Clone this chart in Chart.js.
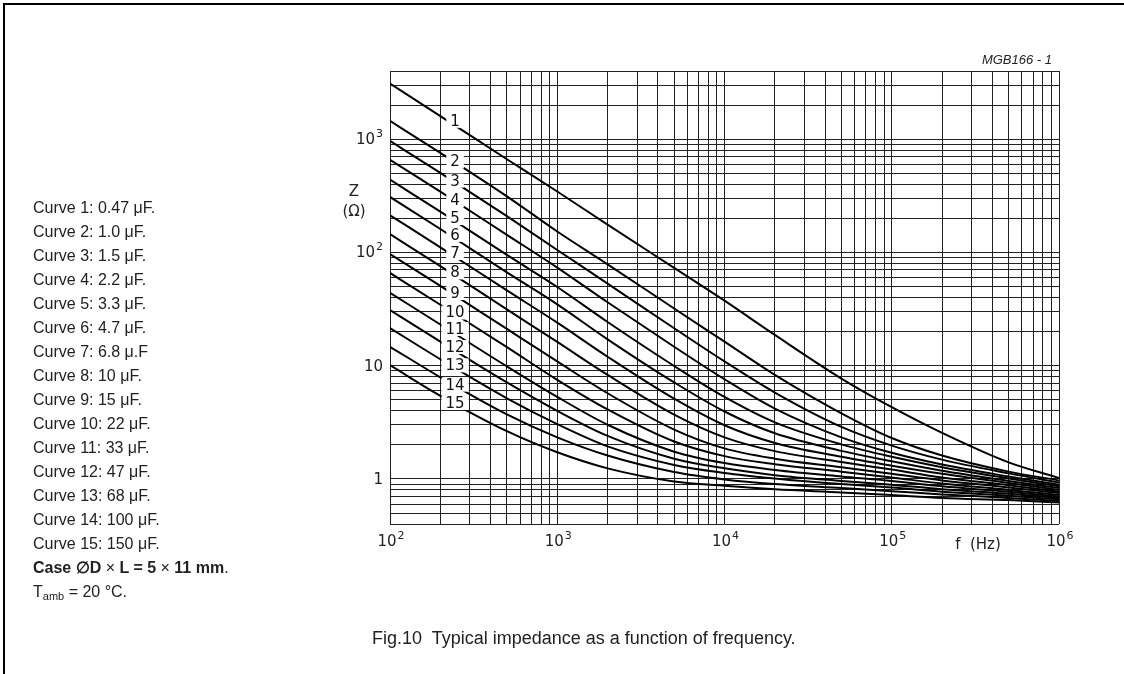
<!DOCTYPE html>
<html>
<head>
<meta charset="utf-8">
<script src="https://cdn.jsdelivr.net/npm/chart.js@4.4.1/dist/chart.umd.min.js"></script>
<style>
  html, body { margin: 0; padding: 0; background: #fff; }
  #wrap { position: relative; width: 1124px; height: 674px; overflow: hidden; }
  #frame { position: absolute; left: 3px; top: 3px; width: 1130px; height: 680px;
           border-left: 2px solid #000; border-top: 2px solid #000; }
  canvas { position: absolute; left: 0; top: 0; }
  .txt { position: absolute; font-family: "Liberation Sans", Arial, sans-serif; color: #222; white-space: nowrap; }
  #notes { left: 33px; top: 196px; font-size: 16px; line-height: 24px; }
  #notes b { font-weight: 600; }
  #notes sub { font-size: 11px; vertical-align: -3px; line-height: 0; }
  #caption { left: 372px; top: 628px; font-size: 18px; }
  #code { right: 72px; top: 52px; font-size: 13px; font-style: italic; }
  #zlab { left: 330px; top: 181px; width: 48px; text-align: center; font-family: "DejaVu Sans", sans-serif;
          font-size: 15px; line-height: 20px; }
</style>
</head>
<body>
<div id="wrap">
  <canvas id="chart" width="1124" height="674"></canvas>
  <div id="frame"></div>
  <div class="txt" id="notes"></div>
  <div class="txt" id="caption">Fig.10&nbsp; Typical impedance as a function of frequency.</div>
  <div class="txt" id="code">MGB166 - 1</div>
  <div class="txt" id="zlab">Z<br>(Ω)</div>
</div>
<script>
// frequency points (Hz) where the curves were read
const freqs = [100, 200, 500, 1e3, 2e3, 5e3, 1e4, 2e4, 5e4, 1e5, 2e5, 5e5, 1e6];

// impedance (ohm)
const curve1  = [3100, 1600, 665, 345, 176, 73, 37.5, 18.7, 7.7, 4.3, 2.55, 1.4, 1.02];
const curve2  = [1450, 756, 313, 153, 78.5, 32, 16.3, 8.3, 3.8, 2.3, 1.61, 1.16, 0.97];
const curve3  = [965, 504, 209, 105, 53.1, 21.4, 10.9, 5.79, 2.88, 1.97, 1.48, 1.12, 0.93];
const curve4  = [658, 344, 143, 73.5, 36.3, 14.7, 7.59, 4.18, 2.33, 1.70, 1.34, 1.05, 0.89];
const curve5  = [439, 229, 95.1, 49.5, 24.3, 9.94, 5.30, 3.16, 2.02, 1.57, 1.27, 1.01, 0.86];
const curve6  = [309, 161, 66.7, 34.8, 17.1, 7.12, 3.94, 2.53, 1.77, 1.43, 1.18, 0.96, 0.83];
const curve7  = [213, 111, 46.2, 24, 12.0, 5.11, 2.98, 2.08, 1.57, 1.31, 1.11, 0.92, 0.80];
const curve8  = [145, 75.6, 31.4, 16.2, 8.29, 3.70, 2.33, 1.76, 1.41, 1.21, 1.03, 0.88, 0.77];
const curve9  = [96.6, 50.6, 21.1, 10.9, 5.71, 2.73, 1.86, 1.51, 1.27, 1.11, 0.97, 0.84, 0.75];
const curve10 = [65.9, 34.5, 14.6, 7.5, 4.11, 2.14, 1.59, 1.35, 1.16, 1.03, 0.91, 0.80, 0.72];
const curve11 = [44.0, 23.1, 9.85, 5.30, 3.01, 1.74, 1.38, 1.20, 1.05, 0.96, 0.86, 0.77, 0.70];
const curve12 = [31.0, 16.3, 7.11, 3.99, 2.40, 1.51, 1.24, 1.08, 0.96, 0.89, 0.81, 0.74, 0.68];
const curve13 = [21.5, 11.4, 5.15, 3.05, 1.94, 1.33, 1.13, 1.01, 0.90, 0.84, 0.77, 0.71, 0.66];
const curve14 = [14.7, 7.90, 3.72, 2.33, 1.61, 1.15, 0.99, 0.90, 0.83, 0.78, 0.73, 0.68, 0.64];
const curve15 = [10.1, 5.42, 2.64, 1.72, 1.24, 0.95, 0.87, 0.81, 0.76, 0.72, 0.68, 0.65, 0.62];

const curves = [curve1, curve2, curve3, curve4, curve5, curve6, curve7, curve8,
                curve9, curve10, curve11, curve12, curve13, curve14, curve15];
const curveNames = ['1','2','3','4','5','6','7','8','9','10','11','12','13','14','15'];
const capValues = ['0.47 μF.', '1.0 μF.', '1.5 μF.', '2.2 μF.', '3.3 μF.', '4.7 μF.', '6.8 μ.F',
                   '10 μF.', '15 μF.', '22 μF.', '33 μF.', '47 μF.', '68 μF.', '100 μF.', '150 μF.'];

// where the curve numbers sit
const labelFreq = 245;
const labelZ = [1453, 635, 430, 288, 201, 143, 98.9, 66.6, 43.8, 29.5, 21.1, 14.6, 10.07, 6.8, 4.69];

// axis ticks
const xMin = 100, xMax = 1e6, yMin = 0.4, yMax = 4000;
const xMajor = [1e2, 1e3, 1e4, 1e5, 1e6];
const xMajorExp = ['2', '3', '4', '5', '6'];
const yMajor = [1, 10, 100, 1000];
const yMajorBase = ['1', '10', '10', '10'];
const yMajorExp = ['', '', '2', '3'];

const xGrid = [];
for (let d = 100; d < xMax; d *= 10) for (let m = 1; m < 10; m++) xGrid.push(d * m);
xGrid.push(xMax);
const yGrid = [0.4, 0.5, 0.6, 0.7, 0.8, 0.9];
for (let d = 1; d < 1000; d *= 10) for (let m = 1; m < 10; m++) yGrid.push(d * m);
yGrid.push(1000, 2000, 3000, 4000);

document.getElementById('notes').innerHTML =
  capValues.map((c, i) => `Curve ${i + 1}: ${c}<br>`).join('') +
  '<b>Case ∅D</b> × <b>L = 5</b> × <b>11 mm</b>.<br>T<sub>amb</sub> = 20 °C.';

const AXFONT = '"DejaVu Sans", sans-serif';

function drawPow(ctx, base, exp, x, y, align) {
  ctx.font = '15px ' + AXFONT;
  const wb = ctx.measureText(base).width;
  ctx.font = '11px ' + AXFONT;
  const we = exp ? ctx.measureText(exp).width + 1 : 0;
  const left = align === 'center' ? x - (wb + we) / 2 : x - (wb + we);
  ctx.textAlign = 'left';
  ctx.textBaseline = 'middle';
  ctx.font = '15px ' + AXFONT;
  ctx.fillText(base, left, y);
  if (exp) {
    ctx.font = '11px ' + AXFONT;
    ctx.fillText(exp, left + wb + 1, y - 6);
  }
}

const annotations = {
  id: 'annotations',
  afterDatasetsDraw(chart) {
    const {ctx, chartArea, scales: {x, y}} = chart;
    ctx.save();
    ctx.font = '15px ' + AXFONT;
    const boxes = curveNames.map((t, i) => ({
      t,
      cx: x.getPixelForValue(labelFreq),
      cy: y.getPixelForValue(labelZ[i]),
      w: ctx.measureText(t).width + 8
    }));
    // white patches that break the curves behind the numbers
    ctx.fillStyle = '#fff';
    boxes.forEach(b => ctx.fillRect(b.cx - b.w / 2, b.cy - 7, b.w, 14));
    ctx.fillStyle = '#111';
    ctx.textAlign = 'center';
    ctx.textBaseline = 'middle';
    boxes.forEach(b => ctx.fillText(b.t, b.cx, b.cy + 1));

    ctx.fillStyle = '#222';
    xMajor.forEach((v, i) => drawPow(ctx, '10', xMajorExp[i], x.getPixelForValue(v) + 1, chartArea.bottom + 18, 'center'));
    yMajor.forEach((v, i) => drawPow(ctx, yMajorBase[i], yMajorExp[i], chartArea.left - 7, y.getPixelForValue(v) + 1, 'right'));
    ctx.font = '15px ' + AXFONT;
    ctx.textAlign = 'center';
    ctx.textBaseline = 'middle';
    ctx.fillText('f  (Hz)', 978, chartArea.bottom + 21);
    ctx.restore();
  }
};

const gridStyle = { color: '#222', lineWidth: 1, drawTicks: false };

new Chart(document.getElementById('chart'), {
  type: 'line',
  data: {
    datasets: curves.map((c, i) => ({
      label: 'Curve ' + curveNames[i],
      data: freqs.map((f, j) => ({x: f, y: c[j]})),
      borderColor: '#000',
      borderWidth: 2,
      pointRadius: 0,
      fill: false,
      cubicInterpolationMode: 'monotone'
    }))
  },
  options: {
    responsive: false,
    animation: false,
    devicePixelRatio: 1,
    layout: { padding: { left: 390, right: 65, top: 71, bottom: 150 } },
    plugins: { legend: { display: false }, tooltip: { enabled: false } },
    scales: {
      x: {
        type: 'logarithmic',
        min: xMin, max: xMax,
        grid: gridStyle,
        border: { display: false },
        ticks: { display: false },
        afterBuildTicks: s => { s.ticks = xGrid.map(v => ({value: v})); }
      },
      y: {
        type: 'logarithmic',
        min: yMin, max: yMax,
        grid: gridStyle,
        border: { display: false },
        ticks: { display: false },
        afterBuildTicks: s => { s.ticks = yGrid.map(v => ({value: v})); }
      }
    }
  },
  plugins: [annotations]
});
</script>
</body>
</html>
